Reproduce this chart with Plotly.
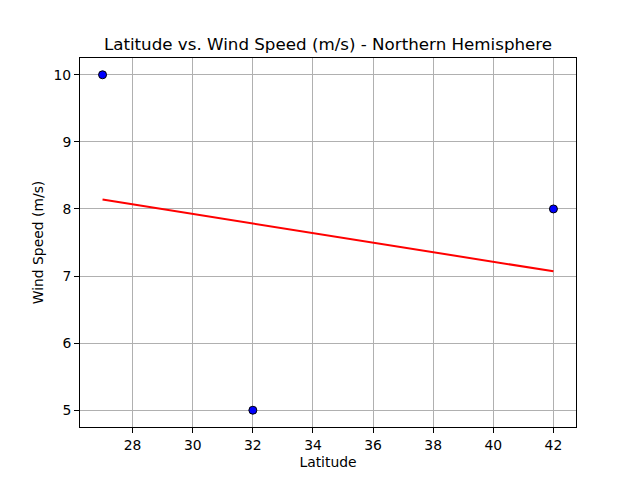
import plotly.graph_objects as go

# Scatter data
latitude = [27, 32, 42]
wind_speed = [10, 5, 8]

# Regression line end points
line_lat = [27, 42]
line_wind = [8.14, 7.07]

title_text = "Latitude vs. Wind Speed (m/s) - Northern Hemisphere"
x_ticks = [28, 30, 32, 34, 36, 38, 40, 42]
y_ticks = [5, 6, 7, 8, 9, 10]

fig = go.Figure()

fig.add_trace(go.Scatter(
    x=latitude,
    y=wind_speed,
    mode="markers",
    marker=dict(color="#0000ff", size=8, line=dict(color="black", width=1)),
    showlegend=False,
))

fig.add_trace(go.Scatter(
    x=line_lat,
    y=line_wind,
    mode="lines",
    line=dict(color="red", width=2),
    showlegend=False,
))

axis_style = dict(
    showline=True,
    mirror=True,
    linecolor="black",
    linewidth=1,
    showgrid=True,
    gridcolor="#b0b0b0",
    gridwidth=1,
    zeroline=False,
    ticks="outside",
    ticklen=5,
    tickcolor="black",
    tickfont=dict(family="DejaVu Sans", size=13.9, color="black"),
)

# the page body adds an 8px offset, so margins are shifted up/left by 8
fig.update_layout(
    width=640,
    height=480,
    paper_bgcolor="white",
    plot_bgcolor="white",
    margin=dict(l=72, r=72, t=50, b=61),
    font=dict(family="DejaVu Sans", color="black"),
    title=dict(
        text=title_text,
        x=0.5,
        xanchor="center",
        y=1 - 36 / 480,
        yanchor="middle",
        yref="container",
        font=dict(size=16.7, color="black"),
    ),
    xaxis=dict(
        range=[26.25, 42.75],
        tickvals=x_ticks,
        title=dict(text="Latitude", font=dict(size=13.9), standoff=5),
        **axis_style,
    ),
    yaxis=dict(
        range=[4.75, 10.25],
        tickvals=y_ticks,
        title=dict(text="Wind Speed (m/s)", font=dict(size=13.9), standoff=6),
        **axis_style,
    ),
)

fig.write_html("out.html")
